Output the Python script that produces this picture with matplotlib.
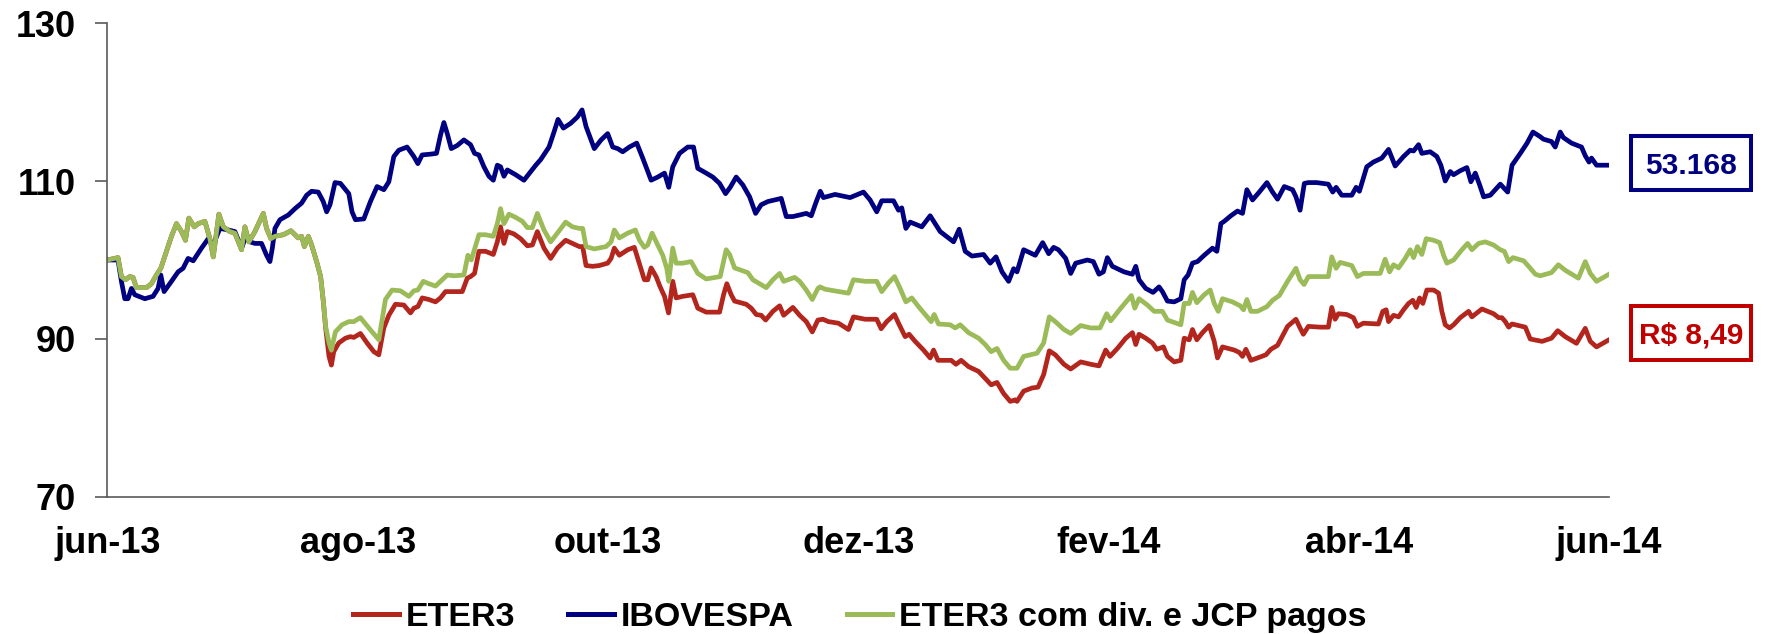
import matplotlib
matplotlib.use("Agg")
import matplotlib.pyplot as plt
from matplotlib.patches import Rectangle

plt.rcParams['font.family'] = ['Liberation Sans', 'DejaVu Sans']
plt.rcParams['font.weight'] = 'bold'

# ---------------- data (months since jun-13, index base 100) ----------------
month_labels = ['jun-13', 'ago-13', 'out-13', 'dez-13', 'fev-14', 'abr-14', 'jun-14']
month_ticks = [0, 2, 4, 6, 8, 10, 12]

eter3_m = [0, 0.085, 0.112, 0.144, 0.179, 0.205, 0.232, 0.312, 0.352, 0.392, 0.427, 0.472, 0.512, 0.552,
           0.592, 0.624, 0.651, 0.694, 0.726, 0.779, 0.819, 0.846, 0.891, 0.926, 0.979, 1.019, 1.072,
           1.099, 1.131, 1.179, 1.246, 1.272, 1.307, 1.339, 1.406, 1.467, 1.499, 1.525, 1.552, 1.574,
           1.606, 1.632, 1.672, 1.704, 1.726, 1.744, 1.771, 1.790, 1.809, 1.849, 1.902, 1.942, 1.969,
           2.022, 2.075, 2.129, 2.169, 2.209, 2.249, 2.302, 2.369, 2.422, 2.449, 2.481, 2.516, 2.569,
           2.622, 2.662, 2.702, 2.769, 2.836, 2.876, 2.902, 2.934, 2.969, 3.022, 3.084, 3.116, 3.142,
           3.169, 3.196, 3.249, 3.302, 3.356, 3.396, 3.436, 3.489, 3.542, 3.596, 3.662, 3.716, 3.771,
           3.798, 3.825, 3.878, 3.931, 3.998, 4.025, 4.051, 4.091, 4.158, 4.211, 4.246, 4.291, 4.318,
           4.345, 4.385, 4.417, 4.452, 4.484, 4.518, 4.545, 4.598, 4.678, 4.718, 4.785, 4.892, 4.924,
           4.950, 4.985, 5.012, 5.105, 5.145, 5.185, 5.225, 5.260, 5.318, 5.372, 5.404, 5.478, 5.532,
           5.585, 5.633, 5.678, 5.718, 5.762, 5.842, 5.922, 5.962, 6.055, 6.148, 6.183, 6.228, 6.290,
           6.322, 6.375, 6.407, 6.455, 6.522, 6.575, 6.602, 6.637, 6.695, 6.743, 6.781, 6.823, 6.882,
           6.962, 7.015, 7.063, 7.109, 7.162, 7.215, 7.255, 7.269, 7.322, 7.389, 7.437, 7.482, 7.527,
           7.575, 7.644, 7.698, 7.778, 7.858, 7.924, 7.978, 8.012, 8.071, 8.138, 8.191, 8.218, 8.244,
           8.298, 8.351, 8.386, 8.439, 8.471, 8.525, 8.578, 8.605, 8.645, 8.671, 8.706, 8.751, 8.805,
           8.845, 8.871, 8.911, 9.005, 9.045, 9.071, 9.098, 9.138, 9.191, 9.258, 9.298, 9.351, 9.431,
           9.498, 9.531, 9.557, 9.597, 9.691, 9.757, 9.784, 9.811, 9.837, 9.904, 9.957, 9.989, 10.037,
           10.157, 10.192, 10.219, 10.238, 10.278, 10.318, 10.358, 10.398, 10.432, 10.459, 10.486,
           10.512, 10.544, 10.598, 10.638, 10.664, 10.691, 10.726, 10.758, 10.811, 10.878, 10.904,
           10.984, 11.077, 11.118, 11.144, 11.171, 11.198, 11.225, 11.331, 11.37, 11.465, 11.54, 11.59,
           11.65, 11.74, 11.81, 11.85, 11.90, 12.0]
eter3_v = [100.0, 100.3, 97.9, 97.5, 97.9, 97.8, 96.5, 96.5, 97.0, 98.1, 98.95, 101.1, 103.0, 104.6,
           103.6, 102.5, 105.3, 104.2, 104.6, 104.9, 102.7, 100.4, 105.8, 104.2, 103.6, 103.4, 101.3,
           104.2, 102.3, 103.6, 105.9, 104.0, 102.7, 103.0, 103.2, 103.7, 103.2, 102.8, 103.0, 101.7,
           103.0, 101.9, 99.8, 97.9, 94.7, 91.4, 87.8, 86.7, 88.4, 89.5, 90.1, 90.3, 90.2,
           90.7, 89.5, 88.4, 88.0, 91.4, 93.0, 94.4, 94.3, 93.3, 93.9, 94.1, 95.2, 95.0,
           94.7, 95.2, 96.0, 96.0, 96.0, 97.7, 97.9, 98.3, 101.1, 101.1, 100.7, 102.3, 104.2,
           102.1, 103.6, 103.3, 102.7, 101.8, 101.9, 103.6, 101.5, 100.2, 101.5, 102.5, 102.1, 101.7,
           101.7, 99.3, 99.2, 99.3, 99.6, 100.2, 101.5, 100.6, 101.3, 101.6, 99.8, 97.5, 97.5,
           99.0, 97.9, 96.6, 95.4, 93.3, 97.3, 95.2, 95.4, 95.6, 93.9, 93.4, 93.4, 95.6,
           97.0, 95.6, 94.8, 94.4, 93.9, 93.1, 93.0, 92.4, 93.5, 94.2, 93.0, 94.0, 93.0,
           92.2, 90.9, 92.4, 92.5, 92.2, 92.0, 91.2, 92.8, 92.5, 92.5, 91.3, 92.2, 93.1,
           92.0, 90.3, 90.6, 89.7, 88.6, 87.6, 88.6, 87.3, 87.3, 87.3, 86.8, 87.3, 86.5,
           85.9, 85.0, 84.2, 84.5, 83.1, 82.1, 82.3, 82.1, 83.4, 83.8, 83.9, 85.5, 88.5,
           88.0, 86.8, 86.2, 87.1, 86.8, 86.6, 88.6, 87.8, 88.8, 90.1, 90.8, 89.3, 90.6,
           90.1, 89.5, 88.7, 89.0, 87.8, 87.1, 87.3, 90.1, 89.9, 91.2, 89.9, 90.8, 91.7,
           89.7, 87.6, 89.0, 88.6, 88.3, 87.8, 88.7, 87.3, 87.6, 88.0, 88.7, 89.2, 91.6,
           92.5, 91.4, 90.6, 91.6, 91.5, 91.5, 94.0, 92.5, 93.2, 93.1, 92.7, 91.6, 92.0,
           91.9, 93.5, 93.7, 92.2, 93.0, 92.8, 93.7, 94.5, 94.9, 94.0, 95.2,
           94.5, 96.2, 96.2, 95.8, 93.5, 91.8, 91.4, 91.8, 92.7, 93.5, 92.8,
           93.8, 93.2, 92.7, 92.7, 92.2, 91.5, 91.9, 91.5, 90.0, 89.7, 90.1, 91.05,
           90.3, 89.45, 91.35, 89.7, 89.0, 89.9]

ibov_m = [0, 0.085, 0.112, 0.139, 0.165, 0.192, 0.219, 0.299, 0.365, 0.405, 0.427, 0.453, 0.512, 0.565,
          0.605, 0.645, 0.686, 0.752, 0.806, 0.846, 0.899, 0.966, 1.019, 1.072, 1.112, 1.139, 1.179,
          1.232, 1.272, 1.299, 1.318, 1.339, 1.379, 1.446, 1.499, 1.552, 1.592, 1.632, 1.685, 1.725,
          1.752, 1.779, 1.819, 1.862, 1.929, 1.955, 1.982, 2.049, 2.102, 2.155, 2.209, 2.249, 2.289,
          2.329, 2.395, 2.449, 2.481, 2.515, 2.582, 2.630, 2.662, 2.689, 2.716, 2.748, 2.796, 2.849,
          2.902, 2.934, 2.969, 3.009, 3.049, 3.084, 3.116, 3.142, 3.169, 3.196, 3.262, 3.329, 3.383,
          3.423, 3.462, 3.529, 3.569, 3.601, 3.644, 3.702, 3.756, 3.793, 3.825, 3.851, 3.891, 3.945,
          3.998, 4.038, 4.078, 4.118, 4.171, 4.230, 4.278, 4.345, 4.398, 4.452, 4.486, 4.518, 4.572,
          4.638, 4.684, 4.718, 4.785, 4.838, 4.892, 4.940, 4.977, 5.025, 5.078, 5.132, 5.180, 5.225,
          5.278, 5.385, 5.425, 5.478, 5.585, 5.625, 5.665, 5.697, 5.722, 5.815, 5.935, 6.042, 6.095,
          6.148, 6.188, 6.282, 6.322, 6.348, 6.381, 6.415, 6.508, 6.575, 6.655, 6.762, 6.807, 6.855,
          6.909, 7.002, 7.055, 7.101, 7.149, 7.202, 7.242, 7.269, 7.322, 7.415, 7.474, 7.522, 7.562,
          7.600, 7.658, 7.698, 7.738, 7.831, 7.879, 7.924, 7.959, 7.991, 8.031, 8.124, 8.191, 8.218,
          8.244, 8.298, 8.356, 8.404, 8.431, 8.471, 8.525, 8.578, 8.605, 8.636, 8.671, 8.711, 8.765,
          8.831, 8.866, 8.898, 8.925, 8.978, 9.031, 9.071, 9.106, 9.151, 9.205, 9.266, 9.311, 9.351,
          9.405, 9.471, 9.498, 9.531, 9.565, 9.597, 9.664, 9.757, 9.792, 9.819, 9.864, 9.944, 9.979,
          10.005, 10.064, 10.117, 10.184, 10.238, 10.291, 10.358, 10.411, 10.438, 10.478, 10.504,
          10.571, 10.624, 10.656, 10.691, 10.731, 10.758, 10.811, 10.864, 10.896, 10.931, 10.966,
          10.998, 11.051, 11.131, 11.190, 11.225, 11.291, 11.345, 11.392, 11.451, 11.475, 11.54,
          11.57, 11.61, 11.635, 11.70, 11.78, 11.81, 11.84, 11.86, 11.90, 12.0]
ibov_v = [100.0, 100.0, 97.3, 95.1, 95.1, 96.4, 95.6, 95.1, 95.4, 96.4, 98.1, 96.0, 97.3, 98.5,
          98.95, 100.2, 99.9, 101.5, 102.7, 101.9, 104.0, 103.8, 103.6, 101.5, 103.2, 102.3, 102.1,
          102.1, 100.6, 99.8, 101.5, 104.0, 105.1, 105.7, 106.5, 107.2, 108.2, 108.7, 108.6, 107.4,
          106.1, 107.0, 109.8, 109.7, 108.4, 106.1, 105.1, 105.2, 107.4, 109.3, 108.9, 109.9, 113.1,
          113.9, 114.3, 113.1, 112.2, 113.3, 113.4, 113.5, 115.8, 117.4, 116.0, 114.1, 114.5, 115.2,
          114.6, 113.5, 113.3, 111.8, 110.6, 110.1, 112.0, 111.8, 110.6, 111.4, 110.8, 110.1, 111.2,
          112.0, 112.7, 114.3, 116.2, 117.8, 116.7, 117.3, 118.1, 119.0, 116.9, 115.8, 114.1, 115.2,
          116.0, 114.3, 114.1, 113.7, 114.3, 114.8, 112.9, 110.1, 110.5, 111.0, 109.2, 111.8, 113.5,
          114.3, 114.3, 111.6, 111.0, 110.5, 109.7, 108.4, 109.2, 110.5, 109.5, 108.0, 105.9, 107.0,
          107.4, 107.8, 105.5, 105.5, 105.9, 105.6, 107.4, 108.7, 107.9, 108.3, 107.9, 108.6, 107.6,
          106.1, 107.5, 107.5, 106.3, 106.6, 104.0, 104.8, 104.2, 105.6, 103.6, 102.3, 103.9, 101.1,
          100.5, 100.7, 99.6, 100.4, 98.5, 97.3, 98.9, 98.5, 101.3, 100.6, 102.2, 100.8, 101.6,
          101.3, 100.2, 98.3, 99.6, 100.0, 99.8, 98.2, 98.5, 100.3, 99.2, 98.5, 98.2, 99.2,
          97.5, 96.4, 95.9, 96.6, 96.0, 94.8, 94.7, 95.1, 97.5, 98.1, 99.6, 99.8, 100.6,
          101.5, 101.1, 104.6, 104.9, 105.6, 106.2, 105.9, 108.9, 107.6, 108.6, 109.8, 108.6, 107.7,
          109.3, 108.9, 108.0, 106.3, 109.7, 109.8, 109.8, 109.6, 108.6, 109.2, 108.2, 108.2, 109.2,
          108.7, 111.8, 112.4, 112.9, 114.0, 111.9, 113.1, 113.9, 113.8, 114.6, 113.5,
          113.7, 113.1, 112.0, 110.0, 111.2, 110.8, 111.3, 111.7, 109.9, 111.0, 109.5,
          108.0, 108.2, 109.6, 108.6, 112.0, 113.5, 114.8, 116.2, 115.6, 115.3, 115.0,
          114.3, 116.2, 115.5, 114.8, 114.3, 113.2, 112.4, 112.9, 112.0, 112.0]

div_m = [0, 0.085, 0.112, 0.144, 0.179, 0.205, 0.232, 0.312, 0.352, 0.392, 0.427, 0.472, 0.512, 0.552,
         0.592, 0.624, 0.651, 0.694, 0.726, 0.779, 0.819, 0.846, 0.891, 0.926, 0.979, 1.019, 1.072,
         1.099, 1.131, 1.179, 1.246, 1.272, 1.307, 1.339, 1.406, 1.467, 1.499, 1.525, 1.552, 1.574,
         1.606, 1.632, 1.672, 1.704, 1.726, 1.744, 1.771, 1.790, 1.822, 1.875, 1.929, 1.969, 2.022,
         2.089, 2.169, 2.222, 2.275, 2.342, 2.409, 2.449, 2.481, 2.524, 2.569, 2.622, 2.662, 2.716,
         2.769, 2.849, 2.881, 2.908, 2.969, 3.022, 3.084, 3.116, 3.142, 3.169, 3.209, 3.262, 3.316,
         3.356, 3.396, 3.436, 3.489, 3.542, 3.596, 3.662, 3.716, 3.771, 3.798, 3.825, 3.891, 3.985,
         4.025, 4.051, 4.091, 4.158, 4.219, 4.252, 4.291, 4.318, 4.353, 4.398, 4.438, 4.470, 4.486,
         4.518, 4.545, 4.598, 4.665, 4.718, 4.785, 4.897, 4.924, 4.945, 4.972, 5.012, 5.118, 5.158,
         5.212, 5.265, 5.318, 5.372, 5.404, 5.492, 5.532, 5.585, 5.633, 5.678, 5.695, 5.735, 5.922,
         5.962, 6.055, 6.148, 6.188, 6.242, 6.290, 6.335, 6.381, 6.428, 6.482, 6.535, 6.583, 6.607,
         6.642, 6.735, 6.775, 6.815, 6.882, 6.962, 7.015, 7.063, 7.109, 7.162, 7.215, 7.269, 7.322,
         7.429, 7.482, 7.527, 7.575, 7.644, 7.698, 7.778, 7.858, 7.932, 7.986, 8.018, 8.098, 8.183,
         8.210, 8.244, 8.311, 8.365, 8.431, 8.471, 8.525, 8.578, 8.605, 8.645, 8.671, 8.706, 8.765,
         8.813, 8.845, 8.877, 8.911, 8.991, 9.053, 9.079, 9.106, 9.138, 9.191, 9.266, 9.311, 9.365,
         9.431, 9.498, 9.531, 9.563, 9.597, 9.757, 9.784, 9.819, 9.851, 9.944, 9.989, 10.037, 10.171,
         10.211, 10.246, 10.278, 10.318, 10.371, 10.411, 10.438, 10.469, 10.504, 10.539, 10.598,
         10.646, 10.678, 10.704, 10.758, 10.824, 10.870, 10.904, 10.958, 11.011, 11.077, 11.131,
         11.163, 11.198, 11.232, 11.318, 11.371, 11.411, 11.45, 11.54, 11.595, 11.65, 11.755, 11.81,
         11.85, 11.90, 12.0]
div_v = [100.0, 100.3, 97.9, 97.5, 97.9, 97.8, 96.5, 96.5, 97.0, 98.1, 98.95, 101.1, 103.0, 104.6,
         103.6, 102.5, 105.3, 104.2, 104.6, 104.9, 102.7, 100.4, 105.8, 104.2, 103.6, 103.4, 101.3,
         104.2, 102.3, 103.6, 105.9, 104.0, 102.7, 103.0, 103.2, 103.7, 103.2, 102.8, 103.0, 101.7,
         103.0, 101.9, 99.8, 97.9, 94.7, 91.6, 89.5, 88.6, 90.9, 91.8, 92.2, 92.2, 92.7,
         91.4, 89.9, 95.0, 96.2, 96.1, 95.4, 96.1, 96.2, 97.3, 97.0, 96.7, 97.3, 98.1,
         98.0, 98.1, 100.6, 100.0, 103.2, 103.2, 103.0, 104.6, 106.5, 104.6, 105.8, 105.4, 104.9,
         104.1, 104.1, 105.9, 103.8, 102.3, 103.4, 104.8, 104.2, 104.0, 104.0, 101.7, 101.4, 101.7,
         102.3, 103.8, 102.8, 103.4, 103.8, 102.5, 101.6, 101.9, 103.4, 101.9, 100.6, 98.95, 97.3,
         101.5, 99.6, 99.6, 99.8, 98.3, 97.6, 97.9, 99.8, 101.3, 100.7, 99.0, 98.4, 97.5,
         97.0, 96.5, 97.5, 98.3, 97.3, 97.8, 97.3, 96.2, 95.0, 96.4, 96.6, 96.3, 95.8,
         97.5, 97.3, 97.3, 96.0, 97.1, 97.9, 96.4, 94.7, 95.2, 94.1, 93.1, 92.2, 93.1,
         91.9, 91.8, 91.4, 91.8, 90.8, 90.1, 89.3, 88.4, 88.8, 87.3, 86.3, 86.3, 87.8,
         88.2, 89.5, 92.8, 92.2, 91.2, 90.7, 91.7, 91.4, 91.4, 93.2, 92.3, 93.9, 95.5,
         93.9, 95.1, 94.3, 93.5, 93.5, 92.4, 92.1, 91.8, 94.5, 94.5, 95.9, 94.6, 95.6,
         96.2, 94.5, 93.5, 95.1, 94.7, 94.2, 93.7, 95.0, 93.5, 93.5, 94.1, 94.9, 95.5,
         97.3, 98.95, 97.5, 96.9, 97.9, 97.9, 100.4, 98.95, 99.7, 99.3, 97.9, 98.3, 98.3,
         100.1, 98.5, 99.4, 99.0, 100.2, 101.3, 100.3, 101.7, 100.7, 102.7, 102.5,
         102.2, 100.6, 99.6, 100.0, 101.3, 102.1, 101.3, 102.1, 102.3, 101.9, 101.3,
         101.1, 99.8, 100.3, 99.9, 98.95, 98.2, 98.0, 98.4, 99.4, 98.7, 97.7, 99.8,
         98.3, 97.3, 98.2]

series_names = ['ETER3', 'IBOVESPA', 'ETER3 com div. e JCP pagos']
last_labels = ['53.168', 'R$ 8,49']

# ---------------- styling ----------------
RED = '#B3261E'
BLUE = '#000080'
GREEN = '#9BBB59'
BOX_RED = '#C00000'
TICK_FS = 26
LEG_FS = 24.5

fig = plt.figure(figsize=(17.75, 6.34), dpi=100)
ax = fig.add_axes([0.0605, 0.2161, 0.8460, 0.7476])

lw = 3.4
ax.plot(eter3_m, eter3_v, color=RED, lw=lw, solid_joinstyle='round', label=series_names[0])
ax.plot(ibov_m, ibov_v, color=BLUE, lw=lw, solid_joinstyle='round', label=series_names[1])
ax.plot(div_m, div_v, color=GREEN, lw=lw, solid_joinstyle='round', label=series_names[2])

ax.set_xlim(0, 12)
ax.set_ylim(70, 130)
ax.set_yticks([70, 90, 110, 130])
ax.set_xticks(month_ticks)
ax.set_xticklabels(month_labels)

for s in ['top', 'right']:
    ax.spines[s].set_visible(False)
for s in ['left', 'bottom']:
    ax.spines[s].set_color('#595959')
    ax.spines[s].set_linewidth(1.2)

ax.tick_params(axis='y', length=8.6, width=1.2, color='#595959', pad=14, labelsize=TICK_FS)
ax.tick_params(axis='x', length=0, pad=21, labelsize=TICK_FS)
for lab in ax.get_xticklabels() + ax.get_yticklabels():
    lab.set_fontweight('bold')

# end-value boxes (figure-fraction layout)
box_x0, box_x1 = 0.9189, 0.9865
boxes = [(0.7003, 0.7855, BLUE, last_labels[0]),
         (0.4322, 0.5174, BOX_RED, last_labels[1])]
for y0, y1, col, txt in boxes:
    fig.patches.append(Rectangle((box_x0, y0), box_x1 - box_x0, y1 - y0,
                                 transform=fig.transFigure, fill=False,
                                 ec=col, lw=2.9, joinstyle='miter'))
    fig.text((box_x0 + box_x1) / 2, (y0 + y1) / 2, txt, ha='center', va='center_baseline',
             color=col, fontsize=21.5, fontweight='bold')

leg = fig.legend(loc='center', bbox_to_anchor=(0.4845, 0.026), ncol=3, frameon=False,
                 handlelength=1.35, handletextpad=0.2, columnspacing=1.55,
                 prop={'size': LEG_FS, 'weight': 'bold'})
for line in leg.get_lines():
    line.set_linewidth(3.6)

fig.savefig('out.png', dpi=100)
